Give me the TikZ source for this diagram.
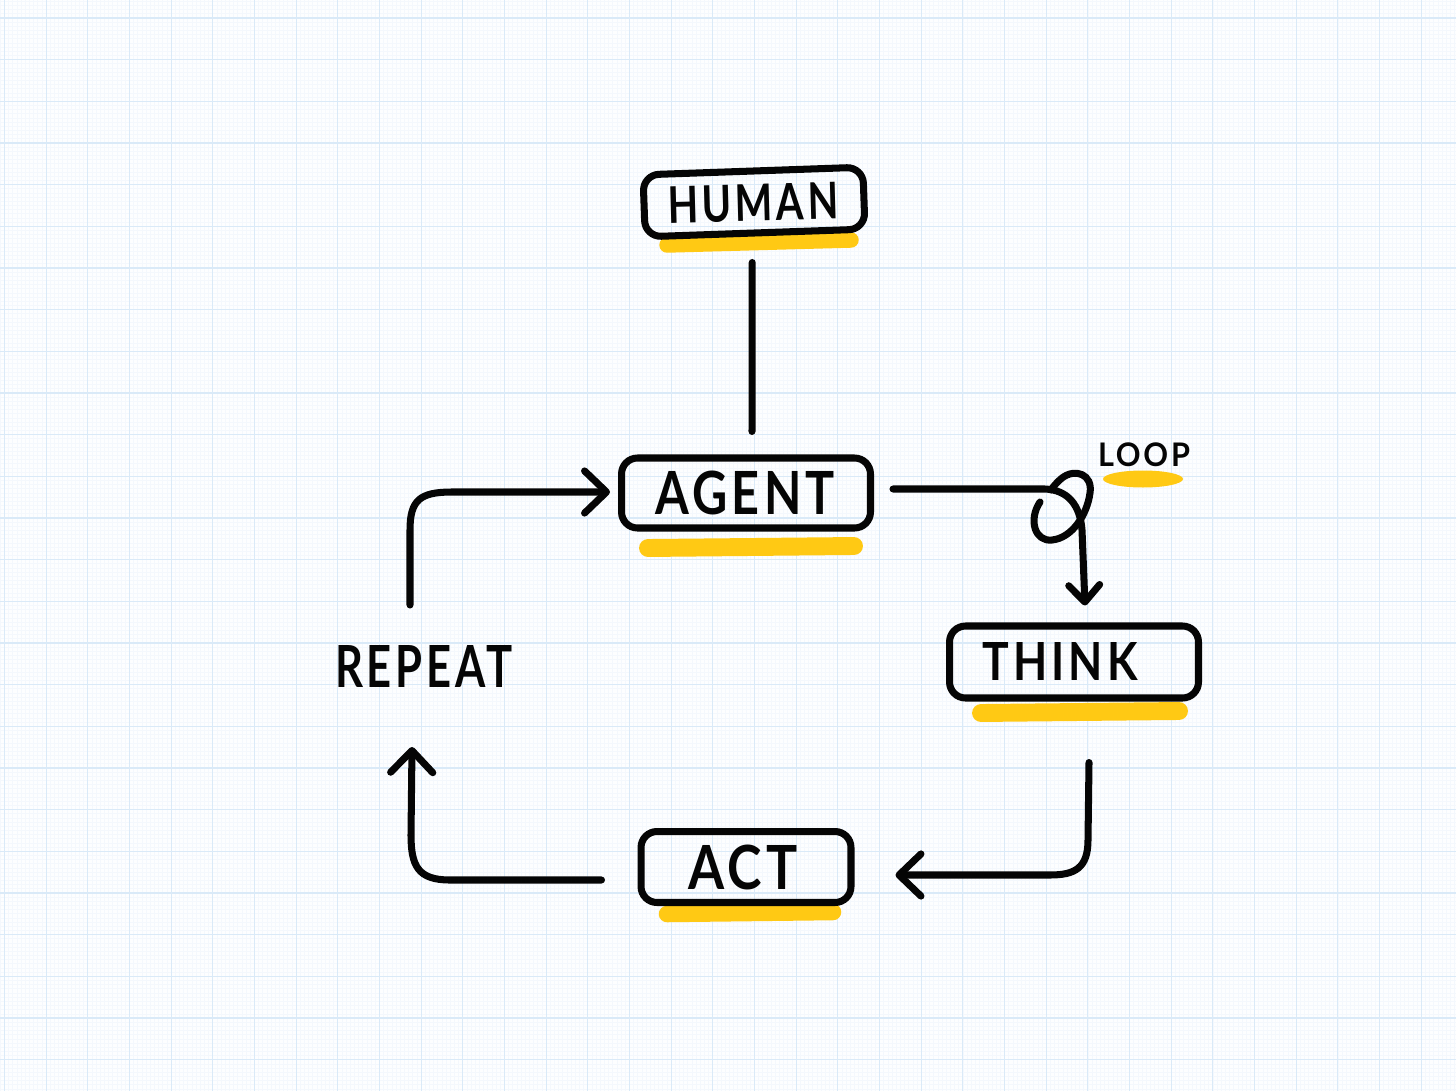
\documentclass[tikz,border=0pt]{standalone}
\usepackage{fontspec}
\newfontfamily\handfont{Lato}[LetterSpace=9]
\usetikzlibrary{arrows.meta,calc}
\definecolor{hiyellow}{RGB}{255,201,20}
\definecolor{gridmajor}{RGB}{218,234,248}
\definecolor{gridminor}{RGB}{244,248,253}
\definecolor{paper}{RGB}{253,254,255}
\definecolor{ink}{RGB}{5,5,5}
\newcommand\handtext[3]{\resizebox*{#1}{#2}{\handfont\bfseries #3}}
\begin{document}
\begin{tikzpicture}[x=0.02cm,y=-0.02cm,
  box/.style={draw=ink, line width=4pt, rounded corners=0.32cm, inner sep=0pt},
  lbl/.style={inner sep=0pt, outer sep=0pt, text=ink},
  conn/.style={draw=ink, line width=4pt, line cap=round, line join=round},
  hl/.style={draw=hiyellow, line width=9.8pt, line cap=round},
  tipsmall/.style={-{Straight Barb[length=9.6pt,width=17.6pt,round]}},
  tipbig/.style={-{Straight Barb[length=12.5pt,width=24pt,round]}},
  minorline/.style={draw=gridminor, line width=0.4pt},
  majorline/.style={draw=gridmajor, line width=0.7pt}
]
\useasboundingbox (0,0) rectangle (1456,1091);
\fill[paper] (0,0) rectangle (1456,1091);
% grid
\foreach \i in {0,...,349} \draw[minorline] ({0.33+4.1667*\i},0) -- ({0.33+4.1667*\i},1091);
\foreach \j in {0,...,261} \draw[minorline] (0,{1.33+4.1667*\j}) -- (1456,{1.33+4.1667*\j});
\foreach \i in {0,...,34} \draw[majorline] ({4.5+41.667*\i},0) -- ({4.5+41.667*\i},1091);
\foreach \j in {0,...,25} \draw[majorline] (0,{18+41.667*\j}) -- (1456,{18+41.667*\j});

% yellow highlights
\draw[hl, line width=8.8pt] (667,245) -- (851,240);
\draw[hl, line width=10.2pt] (648,548) -- (854,546);
\draw[hl, line width=10.2pt] (981,713) -- (1179,711);
\draw[hl, line width=9.4pt] (667,914) -- (833,912);
\fill[hiyellow] (1143,479) ellipse [x radius=40, y radius=8.5];

% boxes
\node[box, minimum width=4.4cm, minimum height=1.24cm, rotate=2] (human) at (754,202) {};
\node[lbl, rotate=1.5] (humantext) at (753,203) {\handtext{3.42cm}{0.74cm}{HUMAN}};
\node[box, minimum width=4.98cm, minimum height=1.4cm] (agent) at (746,493) {};
\node[lbl] (agenttext) at (745,493) {\handtext{3.6cm}{0.88cm}{AGENT}};
\node[box, minimum width=4.98cm, minimum height=1.44cm] (think) at (1074,662) {};
\node[lbl] (thinktext) at (1060,661) {\handtext{3.1cm}{0.76cm}{THINK}};
\node[box, minimum width=4.2cm, minimum height=1.42cm] (act) at (746,867) {};
\node[lbl] (acttext) at (743,867) {\handtext{2.2cm}{0.9cm}{ACT}};
\node[lbl] (repeat) at (424,666) {\handtext{3.56cm}{0.84cm}{REPEAT}};
\node[lbl] (loop) at (1144,455) {\handtext{1.84cm}{0.48cm}{LOOP}};

% connectors
\draw[conn] ($(human.south)+(-3,26)$) -- ($(agent.north)+(6,-23)$);
\draw[conn, tipsmall] ($(agent.east)+(19,-4)$) -- (1045,489)
  .. controls (1068,490) and (1080,505) .. (1082,530) -- ($(think.north)+(11,-17)$);
\draw[conn] (1040,502) .. controls (1028,520) and (1035,542) .. (1052,540)
  .. controls (1072,538) and (1087,515) .. (1090,493)
  .. controls (1093,474) and (1075,468) .. (1062,478)
  .. controls (1056,483) and (1053,487) .. (1051,490);
\draw[conn, tipbig] ($(think.south)+(15,61)$) -- (1088,840)
  .. controls (1088,868) and (1075,875) .. (1050,875) -- ($(act.east)+(41,8)$);
\draw[conn, tipbig] ($(act.west)+(-36,13)$) -- (450,880)
  .. controls (418,880) and (411,866) .. (411,835) -- ($(repeat.south)+(-12,60)$);
\draw[conn, tipbig] ($(repeat.north)+(-14,-40)$) -- (410,530)
  .. controls (410,500) and (420,492) .. (452,492) -- ($(agent.west)+(-8,-1)$);
\end{tikzpicture}
\end{document}
